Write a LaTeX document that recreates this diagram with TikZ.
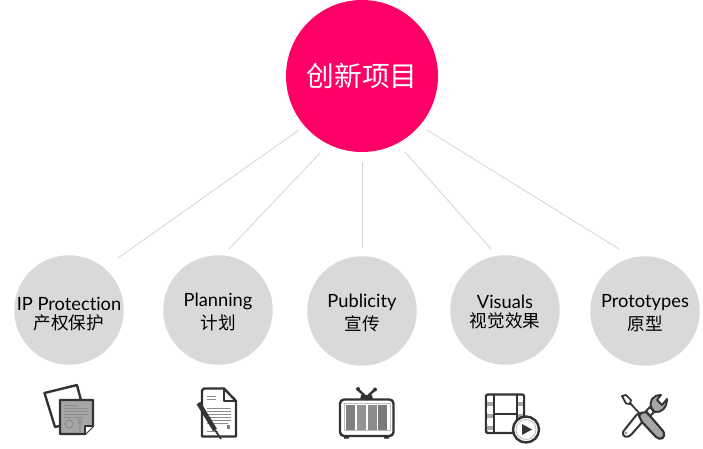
\documentclass[tikz,border=0pt]{standalone}
\usepackage{fontspec}
\setmainfont[Ligatures=NoCommon]{Lato}
\newfontfamily\cjk{Noto Sans CJK SC}
\definecolor{hub}{HTML}{FF0066}
\definecolor{disc}{HTML}{D9D9D9}
\definecolor{link}{HTML}{D4D4D4}
\definecolor{ink}{HTML}{333333}
\definecolor{midg}{HTML}{A6A6A6}
\tikzset{
  hubnode/.style={circle,fill=hub,minimum size=152*0.75pt,inner sep=0pt,text=white,font=\cjk\fontsize{20.8}{24}\selectfont},
  topic/.style={circle,fill=disc,minimum size=109.5*0.75pt,inner sep=0pt},
  toptext/.style={align=center,text=black,inner sep=0pt,yshift=-1.7pt},
  linkline/.style={draw=link,line width=0.6pt},
  ico/.style={draw=ink,line width=1.8pt,line join=round,line cap=round},
  thinl/.style={draw=black!45,line width=0.5pt},
}
\newcommand{\lab}[2]{{\fontsize{13.7}{16}\selectfont #1}\\[2.5pt]{\cjk\fontsize{13.2}{16}\selectfont #2}}
\begin{document}
\begin{tikzpicture}[x=0.75pt,y=-0.75pt]
\useasboundingbox (0,0) rectangle (703,449);
\node[hubnode] (main) at (362,76) {创新项目};
\node[topic,label={[toptext,yshift=-1.5pt]center:\lab{IP Protection}{产权保护}}] (n1) at (69,310) {};
\node[topic,label={[toptext]center:\lab{Planning}{计划}}] (n2) at (218,310) {};
\node[topic,label={[toptext]center:\lab{Publicity}{宣传}}] (n3) at (362,311) {};
\node[topic,label={[toptext]center:\lab{Visuals}{视觉效果}}] (n4) at (505,310) {};
\node[topic,label={[toptext]center:\lab{Prototypes}{原型}}] (n5) at (645,311) {};
\coordinate (a1) at (299,130); \coordinate (b1) at (118,258);
\coordinate (a2) at (320,153); \coordinate (b2) at (229,249);
\coordinate (a3) at (362,162); \coordinate (b3) at (362,248);
\coordinate (a4) at (405,152); \coordinate (b4) at (491,249);
\coordinate (a5) at (427,130); \coordinate (b5) at (619,249);
\foreach \i in {1,...,5} \draw[linkline] (a\i) -- (b\i);
% icon 1
\draw[ico,fill=white] (44.5,393) -- (77,385) -- (86,420) -- (55,427) -- cycle;
\draw[ico,fill=midg] (60,400) -- (93,400) -- (93,426) -- (85,434) -- (60,434) -- cycle;
\draw[ico,fill=white,line width=1.2pt] (85,434) -- (85,426) -- (93,426);
\foreach \y/\e in {405/78,408/88,411/88,414/88,417/84} \draw[thinl] (64,\y) -- (\e,\y);
\draw[thinl,line width=0.8pt] (69,424) circle (4);
\draw[thinl,line width=0.8pt] (80,421) circle (2) (80,423) -- (80,432);
% icon 2
\draw[ico,fill=white] (204,388.5) -- (224,388.5) -- (236,401) -- (236,436.5) -- (202,436.5) -- (202,390.5) -- cycle;
\draw[ico,line width=1.3pt] (224,388.5) -- (224,401) -- (236,401);
\foreach \y/\s/\e in {396/207/216,399/207/216,408/207/231,411/207/231,414/207/231,417/207/231,420/207/231,423/207/228} \draw[thinl] (\s,\y) -- (\e,\y);
\draw[thinl] (207,431) -- (218,431);
\fill[black!50] (226.5,425) rectangle (230,429);
\draw[ink,line width=3.4pt] (198.5,403) -- (215,430);
\draw[ink,line width=1.3pt] (215,430) -- (221,439);
% icon 3
\draw[ico] (358,389.5) -- (365,396) (375,389.5) -- (368,396);
\fill[ink] (358,389) circle (2) (375,389.5) circle (2);
\fill[ink] (361,395) -- (372,395) -- (373,400) -- (360,400) -- cycle;
\fill[ink] (344,436) rectangle (349,438.5) (384,436) rectangle (389,438.5);
\draw[ico,fill=white,rounded corners=3pt] (340,399.5) rectangle (393.5,436);
\draw[black!25,line width=0.7pt] (344,403.5) rectangle (390,430.5);
\foreach \x/\g in {346/50,357/42,368/45,378/52} \fill[black!\g] (\x,405) rectangle (\x+8.5,430);
% icon 4
\draw[ico,fill=white,rounded corners=1.5pt] (486,394.5) rectangle (524,433);
\draw[ico,line width=1.3pt] (494,394.5) -- (494,433) (517,394.5) -- (517,433) (494,414) -- (517,414);
\foreach \y/\c in {396/white,402/midg,408/white,414/midg,420/white,426/midg}{
  \fill[\c] (487,\y) rectangle (493.2,\y+4);
  \fill[\c] (517.8,\y) rectangle (523,\y+4);
}
\draw[ico,fill=white,line width=1.8pt] (526,429.5) circle (13);
\draw[black!25,line width=0.7pt] (526,429.5) circle (10);
\fill[ink] (522,424) -- (532,429.5) -- (522,435) -- cycle;
% icon 5
\draw[ico,line width=1.3pt,fill=white] (622,396) -- (626,395) -- (631,400) -- (630,404) -- (626,403.5) -- cycle;
\draw[ico,line width=1.3pt] (630,403) -- (640,414);
\draw[ico,fill=white,line width=1.5pt,rounded corners=2pt] (638,413) -- (645,419) -- (630,436) -- (625,437.5) -- (622,433) -- cycle;
\fill[ink] (626,433) circle (0.9);
\draw[ico,fill=white,line width=1.4pt] (646,411) -- (650,407) -- (654,412) -- (650,416) -- cycle;
\draw[ico,fill=midg,line width=1.6pt] (641,413) -- (646,412) -- (651,417) -- (663,431) .. controls (667,438) and (660,441) .. (656,437) -- (642,422) -- (639,416) -- cycle;
\draw[ico,fill=midg,line width=1.4pt] (652,409) .. controls (648,401) and (653,395) .. (661,395) -- (657,400) -- (662,405) -- (667,399) .. controls (667,408) and (661,413) .. (655,412) -- cycle;
\end{tikzpicture}
\end{document}
